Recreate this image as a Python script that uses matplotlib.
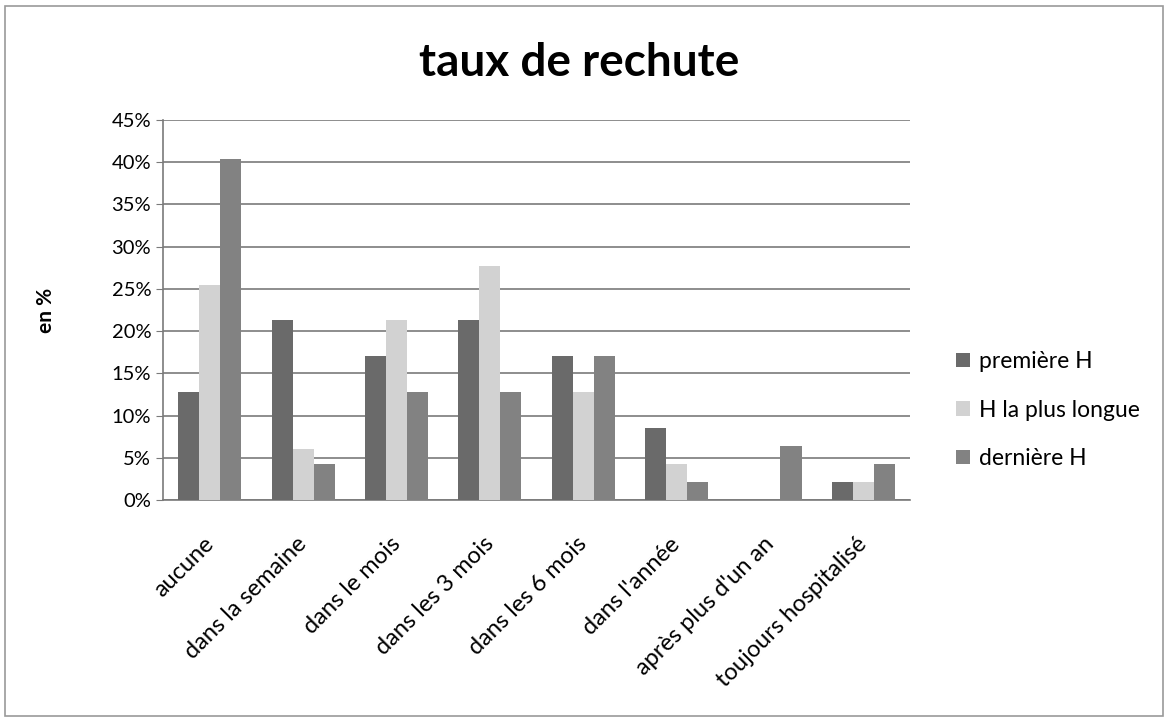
import numpy as np
import matplotlib.pyplot as plt
import matplotlib.transforms as mtransforms
from matplotlib.patches import Rectangle

plt.rcParams['font.family'] = ['Lato', 'DejaVu Sans']

categories = ["aucune", "dans la semaine", "dans le mois", "dans les 3 mois",
              "dans les 6 mois", "dans l'année", "après plus d'un an",
              "toujours hospitalisé"]
premiere = [12.8, 21.3, 17.0, 21.3, 17.0, 8.5, 0.0, 2.1]
plus_longue = [25.5, 6.0, 21.3, 27.7, 12.8, 4.3, 0.0, 2.1]
derniere = [40.4, 4.3, 12.8, 12.8, 17.0, 2.1, 6.4, 4.3]
series_names = ["première H", "H la plus longue", "dernière H"]

fig = plt.figure(figsize=(11.66, 7.21), dpi=100)
ax = fig.add_axes([0.1398, 0.3065, 0.6407, 0.5271])

x = np.arange(len(categories))
w = 0.225
colors = ["#6a6a6a", "#d2d2d2", "#828282"]
for i, (vals, name) in enumerate(zip([premiere, plus_longue, derniere], series_names)):
    ax.bar(x + (i - 1) * w, vals, width=w, color=colors[i], label=name, zorder=3)

ax.set_xlim(-0.5, len(categories) - 0.5)
ax.set_ylim(0, 45)
ax.set_yticks(np.arange(0, 46, 5))
ax.set_yticklabels([f"{v}%" for v in range(0, 46, 5)], fontsize=14.5)
ax.yaxis.grid(True, color="#7a7a7a", linewidth=1.2, zorder=0)
ax.set_xticks(x)
ax.set_xticklabels(categories, rotation=45, ha="right", va="top",
                   rotation_mode="anchor", fontsize=17)
ax.tick_params(axis="x", length=0, pad=24)
shift = mtransforms.ScaledTranslation(-7 / 100, 0, fig.dpi_scale_trans)
for lbl in ax.get_xticklabels():
    lbl.set_transform(lbl.get_transform() + shift)
ax.tick_params(axis="y", length=5, color="#7a7a7a")
for s in ["top", "right"]:
    ax.spines[s].set_visible(False)
for s in ["left", "bottom"]:
    ax.spines[s].set_color("#7a7a7a")
    ax.spines[s].set_linewidth(1.2)
ax.set_ylabel("en %", fontsize=15, fontweight="bold", labelpad=40)

fig.text(0.497, 0.913, "taux de rechute", ha="center", va="center",
         fontsize=33, fontweight="bold")

fig.legend(loc="center left", bbox_to_anchor=(0.802, 0.431), frameon=False,
           fontsize=16.5, handlelength=0.6, handleheight=0.6, handletextpad=0.4,
           labelspacing=1.2)

fig.patches.append(Rectangle((0.004, 0.007), 0.993, 0.985, transform=fig.transFigure,
                             fill=False, edgecolor="#9a9a9a", linewidth=1.2))

fig.savefig("out.png", dpi=100)
